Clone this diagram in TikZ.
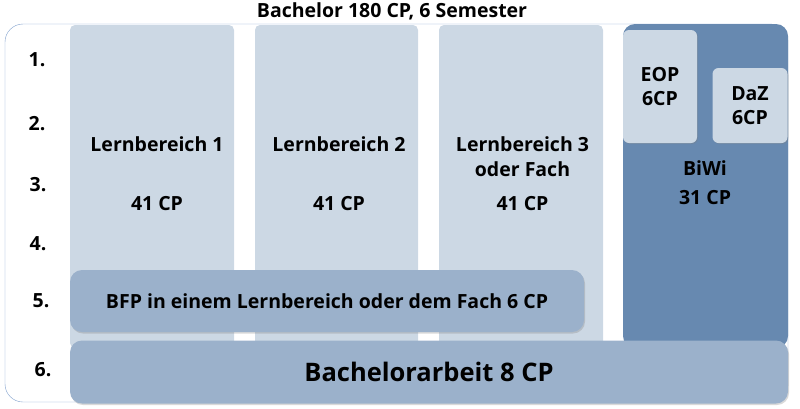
\documentclass[tikz,border=0pt]{standalone}
\usepackage{fontspec}
\setmainfont{Open Sans}
\usetikzlibrary{shadows}
\definecolor{hell}{HTML}{CCD8E4}
\definecolor{mittel}{HTML}{9BB1CB}
\definecolor{dunkel}{HTML}{6789B0}
\definecolor{rand}{HTML}{7F9FCC}
\begin{document}
\begin{tikzpicture}[x=1pt,y=-1pt,
    every node/.style={font=\bfseries\fontsize{19.5}{25}\selectfont,align=center,inner sep=0pt},
    spalte/.style={fill=hell,rounded corners=5pt},
    modul/.style={fill=hell,rounded corners=6pt,drop shadow={opacity=.3,shadow xshift=1pt,shadow yshift=-1pt}},
    balken/.style={fill=mittel,rounded corners=12pt,drop shadow={opacity=.3,shadow xshift=1pt,shadow yshift=-1.5pt}}]
  \useasboundingbox (0,0) rectangle (800,408);
  \node (titel) at (392,11) {Bachelor 180 CP, 6 Semester};
  \draw[rand,rounded corners=18pt] (5,24) rectangle (788,402);
  % Semester
  \foreach \s/\x/\y in {1/37/60,2/37/124,3/38/185,4/38/244,5/41/301,6/43/370}
    \node (sem\s) at (\x,\y) {\s.};
  % Lernbereiche
  \node[spalte,minimum width=164pt,minimum height=323pt] (lb1) at (152,186.5) {};
  \node[spalte,minimum width=163pt,minimum height=323pt] (lb2) at (336.5,186.5) {};
  \node[spalte,minimum width=164pt,minimum height=323pt] (lb3) at (521,186.5) {};
  \node (lb1t) at (157,173.5) {Lernbereich 1\\[34pt]41 CP};
  \node (lb2t) at (339,173.5) {Lernbereich 2\\[34pt]41 CP};
  \node (lb3t) at (522.5,173.5) {Lernbereich 3\\oder Fach\\[9pt]41 CP};
  % BiWi
  \node[fill=dunkel,rounded corners=12pt,minimum width=165pt,minimum height=324pt] (biwi) at (705.5,186) {};
  \node (biwit) at (705,182.5) {BiWi\\[4pt]31 CP};
  \node[modul,minimum width=74pt,minimum height=113pt] (eop) at (660,86.5) {EOP\\[-1.5pt]6CP};
  \node[modul,minimum width=75pt,minimum height=75pt] (daz) at (750,105.5) {DaZ\\[-1.5pt]6CP};
  % BFP und Bachelorarbeit
  \node[balken,minimum width=514pt,minimum height=62pt] (bfp) at (327,301) {BFP in einem Lernbereich oder dem Fach 6 CP};
  \node[balken,minimum width=718pt,minimum height=63pt,font=\bfseries\fontsize{25.5}{31}\selectfont] (ba) at (429,372) {Bachelorarbeit 8 CP};
\end{tikzpicture}
\end{document}
